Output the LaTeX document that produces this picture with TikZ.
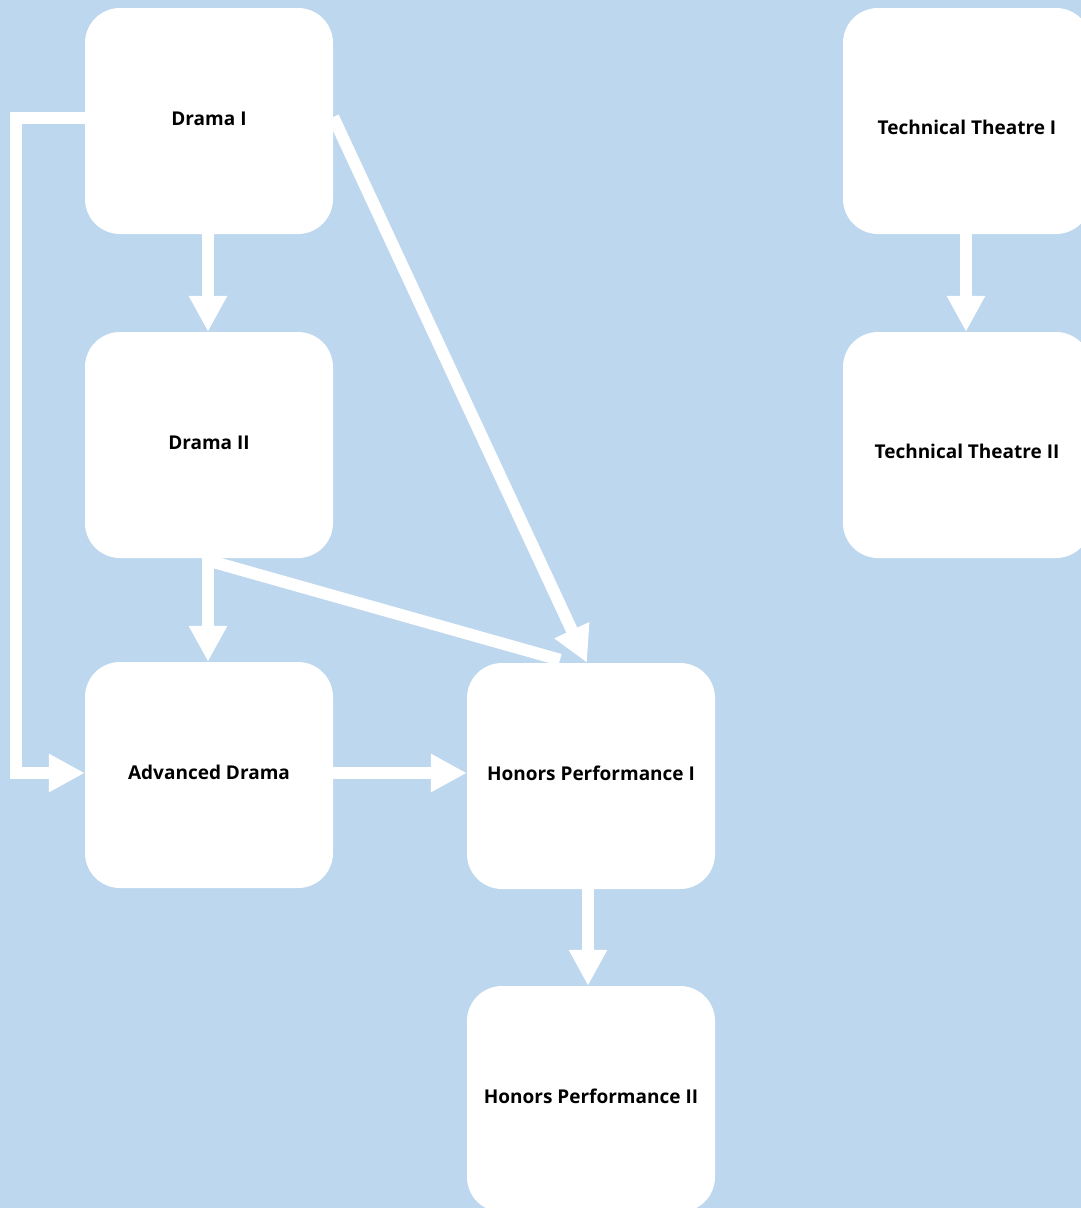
\documentclass[tikz,border=0pt]{standalone}
\usepackage{fontspec}
\setmainfont{Open Sans}
\usetikzlibrary{arrows.meta}
\definecolor{bgblue}{RGB}{189,215,238}
\tikzset{
  course/.style={fill=white, draw=none, rounded corners=35pt, minimum width=248pt, minimum height=226pt,
    inner sep=0pt, text height=13.6pt, text depth=4pt, align=center,
    font=\bfseries\fontsize{19}{23}\selectfont, text=black},
  lowtext/.style={text height=31.6pt},
  flow/.style={draw=white, line width=12pt, line cap=butt, line join=miter,
    -{Triangle[width=36pt,length=36pt]}},
  plainflow/.style={draw=white, line width=12pt, line cap=butt}
}
\begin{document}
\begin{tikzpicture}[x=1pt,y=-1pt]
\useasboundingbox (0,0) rectangle (1081,1208);
\clip (0,0) rectangle (1081,1208);
\fill[bgblue] (0,0) rectangle (1081,1208);

\node[course] (D1) at (209,121) {Drama I};
\node[course] (D2) at (209,445) {Drama II};
\node[course] (AD) at (209,775) {Advanced Drama};
\node[course] (HP1) at (591,776) {Honors Performance I};
\node[course] (HP2) at (591,1099) {Honors Performance II};
\node[course,lowtext] (TT1) at (967,121) {Technical Theatre I};
\node[course,lowtext] (TT2) at (967,445) {Technical Theatre II};

\coordinate (k1) at (16,118);
\coordinate (k2) at (16,773);

% Drama I -> Drama II
\draw[flow] ([xshift=-1pt]D1.south) -- ([xshift=-1pt]D2.north);
% Drama II -> Advanced Drama
\draw[flow] ([xshift=-1pt]D2.south) -- ([xshift=-1pt]AD.north);
% Drama I -> Advanced Drama (elbow)
\draw[flow] ([yshift=3pt]D1.west) -- (k1) -- (k2) -- (k2 -| AD.west);
% Advanced Drama -> Honors Performance I
\draw[flow] ([yshift=2pt]AD.east) -- ([yshift=2pt]AD.east -| HP1.west);
% Drama II -> Honors Performance I
\draw[plainflow] ([xshift=-2pt,yshift=-2pt]D2.south) -- ([xshift=-31pt,yshift=3pt]HP1.north);
% Drama I -> Honors Performance I
\draw[flow] ([yshift=4pt]D1.east) -- ([xshift=-4pt]HP1.north);
% Honors Performance I -> Honors Performance II
\draw[flow] ([xshift=-3pt]HP1.south) -- ([xshift=-3pt]HP2.north);
% Technical Theatre I -> Technical Theatre II
\draw[flow] ([xshift=-1pt]TT1.south) -- ([xshift=-1pt]TT2.north);
\end{tikzpicture}
\end{document}
